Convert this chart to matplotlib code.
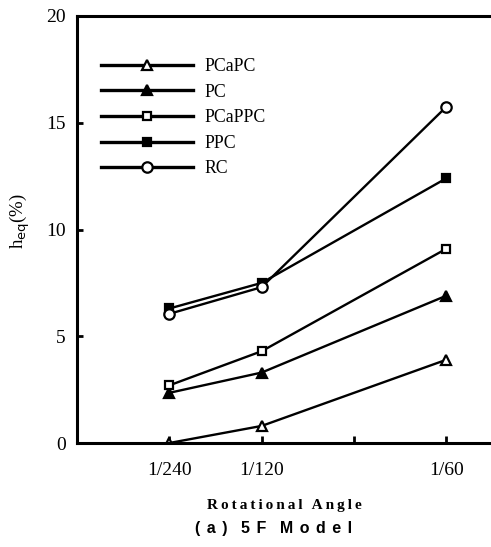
import matplotlib
matplotlib.use("Agg")
import matplotlib.pyplot as plt

angles = [1 / 240, 1 / 120, 1 / 60]
angle_labels = ["1/240", "1/120", "1/60"]

pcapc = [0.0, 0.8, 3.9]
pc = [2.35, 3.3, 6.9]
pcappc = [2.7, 4.3, 9.1]
ppc = [6.3, 7.5, 12.4]
rc = [6.05, 7.3, 15.75]

series = [
    ("PCaPC", pcapc, "^", "white", 6.5),
    ("PC", pc, "^", "black", 6.5),
    ("PCaPPC", pcappc, "s", "white", 5.5),
    ("PPC", ppc, "s", "black", 5.5),
    ("RC", rc, "o", "white", 7.5),
]

plt.rcParams["font.family"] = ["Liberation Serif", "DejaVu Serif"]

fig = plt.figure(figsize=(4.91, 5.47), dpi=100)
ax = fig.add_axes([77 / 491, 1 - 443 / 547, 1 - 77 / 491, 427 / 547])

for name, vals, mk, face, ms in series:
    ax.plot(angles, vals, color="black", lw=1.7, marker=mk, markersize=ms,
            markerfacecolor=face, markeredgecolor="black", markeredgewidth=1.6,
            label=name)

ax.set_xlim(0, 0.01868)
ax.set_ylim(0, 20)
ax.set_yticks([0, 5, 10, 15, 20])
ax.set_xticks([1 / 240, 1 / 120, 1 / 80, 1 / 60])
ax.set_xticklabels([angle_labels[0], angle_labels[1], "", angle_labels[2]])
ax.tick_params(axis="x", direction="in", length=5, width=2, pad=14, labelsize=14)
ax.tick_params(axis="y", direction="in", length=4, width=2, pad=8, labelsize=14)

for s in ["left", "bottom", "top"]:
    ax.spines[s].set_linewidth(2.2)
ax.spines["right"].set_visible(False)

ax.set_ylabel(r"h$_{\mathrm{eq}}$(%)", fontsize=13.5)
ax.yaxis.set_label_coords(-0.108, 0.52)

leg = ax.legend(loc="upper left", bbox_to_anchor=(0.04, 0.918), frameon=False,
                fontsize=12.8, handlelength=5.2, handletextpad=0.65,
                labelspacing=0.48, borderaxespad=0)
for h in leg.get_lines():
    h.set_linewidth(2.4)

sp = "\u2009"
xl = sp.join("Rotational") + sp * 3 + sp.join("Angle")
fig.text(284 / 491, 1 - 505 / 547, xl, ha="center", va="center",
         fontsize=11, fontweight="bold")
sp2 = sp * 2
tl = sp2.join("(a)") + "   " + sp2.join("5F") + "   " + sp2.join("Model")
fig.text(274 / 491, 1 - 529 / 547, tl, ha="center", va="center",
         fontsize=11.5, fontweight="bold",
         family=["Liberation Sans", "DejaVu Sans"])

fig.savefig("out.png", dpi=100)
